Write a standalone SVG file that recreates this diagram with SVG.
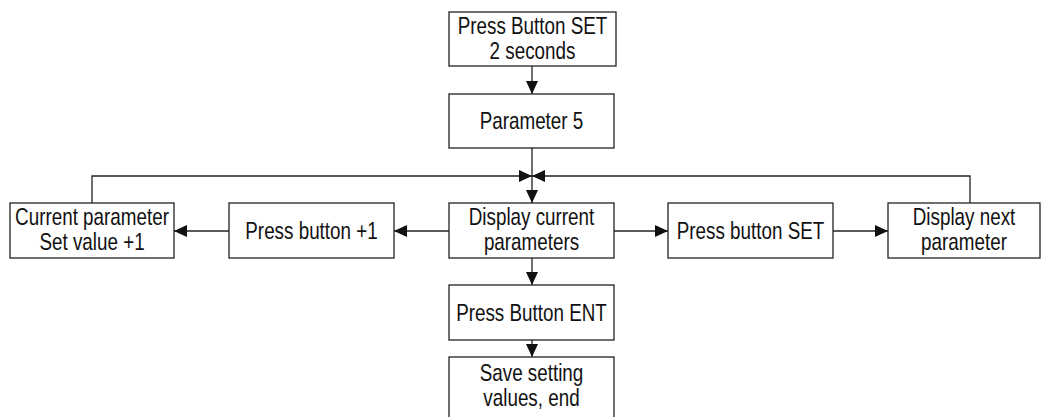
<svg xmlns="http://www.w3.org/2000/svg" width="1042" height="417" viewBox="0 0 1042 417">
  <style>
    .box { fill: #fff; stroke: #222; stroke-width: 1.3; }
    .lbl { font-family: "Liberation Sans", Arial, sans-serif; font-size: 24px; fill: #111; text-anchor: middle; }
    .wire { fill: none; stroke: #222; stroke-width: 1.3; }
  </style>
  <defs>
    <marker id="arrow" viewBox="0 0 13 12" refX="13" refY="6" markerWidth="13" markerHeight="12" markerUnits="userSpaceOnUse" orient="auto">
      <path d="M0,0 L13,6 L0,12 Z" fill="#111"/>
    </marker>
  </defs>
  <rect width="1042" height="417" fill="#fff"/>

  <g id="connectors">
    <line class="wire" x1="532" y1="66" x2="532" y2="94" marker-end="url(#arrow)"/>
    <line class="wire" x1="532" y1="148" x2="532" y2="203" marker-end="url(#arrow)"/>
    <polyline class="wire" points="92,203 92,176 532,176" marker-end="url(#arrow)"/>
    <polyline class="wire" points="970,203 970,176 532,176" marker-end="url(#arrow)"/>
    <line class="wire" x1="449" y1="231" x2="394" y2="231" marker-end="url(#arrow)"/>
    <line class="wire" x1="229" y1="231" x2="174" y2="231" marker-end="url(#arrow)"/>
    <line class="wire" x1="614" y1="231" x2="668" y2="231" marker-end="url(#arrow)"/>
    <line class="wire" x1="833" y1="231" x2="888" y2="231" marker-end="url(#arrow)"/>
    <line class="wire" x1="532" y1="258" x2="532" y2="285" marker-end="url(#arrow)"/>
    <line class="wire" x1="532" y1="340" x2="532" y2="357" marker-end="url(#arrow)"/>
  </g>

  <!-- labels use a horizontally condensed sans (scale 0.785) -->
  <g id="press-set-2s">
    <rect class="box" x="449" y="12" width="167" height="54"/>
    <text class="lbl" transform="translate(532.5 34.3) scale(0.785 1)">Press Button SET</text>
    <text class="lbl" transform="translate(532.5 59.3) scale(0.785 1)">2 seconds</text>
  </g>

  <g id="parameter-5">
    <rect class="box" x="449" y="94" width="165" height="54"/>
    <text class="lbl" transform="translate(531.5 129) scale(0.785 1)">Parameter 5</text>
  </g>

  <g id="display-current">
    <rect class="box" x="449" y="203" width="165" height="55"/>
    <text class="lbl" transform="translate(531.5 225) scale(0.785 1)">Display current</text>
    <text class="lbl" transform="translate(531.5 250) scale(0.785 1)">parameters</text>
  </g>

  <g id="press-plus-one">
    <rect class="box" x="229" y="203" width="165" height="55"/>
    <text class="lbl" transform="translate(311.5 239) scale(0.785 1)">Press button +1</text>
  </g>

  <g id="current-parameter">
    <rect class="box" x="10" y="203" width="164" height="55"/>
    <text class="lbl" transform="translate(92 225) scale(0.785 1)">Current parameter</text>
    <text class="lbl" transform="translate(92 250) scale(0.785 1)">Set value +1</text>
  </g>

  <g id="press-set">
    <rect class="box" x="668" y="203" width="165" height="55"/>
    <text class="lbl" transform="translate(750.5 239) scale(0.785 1)">Press button SET</text>
  </g>

  <g id="display-next">
    <rect class="box" x="888" y="203" width="152" height="55"/>
    <text class="lbl" transform="translate(964 225) scale(0.785 1)">Display next</text>
    <text class="lbl" transform="translate(964 250) scale(0.785 1)">parameter</text>
  </g>

  <g id="press-ent">
    <rect class="box" x="449" y="285" width="165" height="55"/>
    <text class="lbl" transform="translate(531.5 321) scale(0.785 1)">Press Button ENT</text>
  </g>

  <g id="save-end">
    <rect class="box" x="449" y="357" width="165" height="64"/>
    <text class="lbl" transform="translate(531.5 381) scale(0.785 1)">Save setting</text>
    <text class="lbl" transform="translate(531.5 406) scale(0.785 1)">values, end</text>
  </g>
</svg>
